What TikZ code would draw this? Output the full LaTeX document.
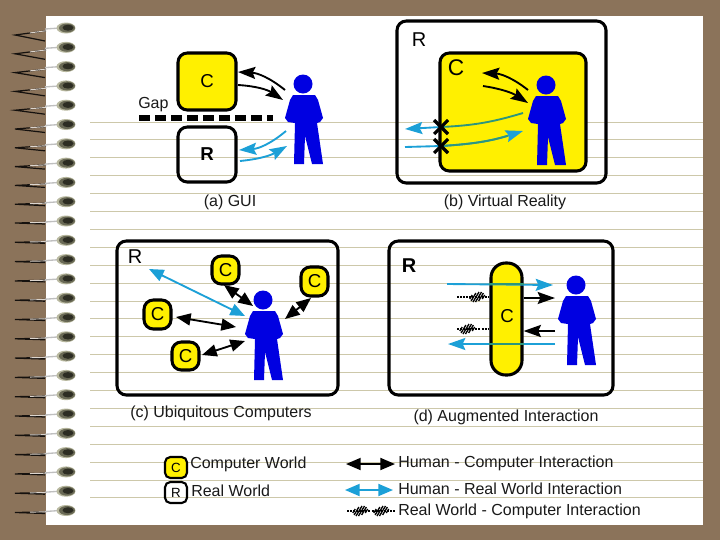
\documentclass[tikz,border=0pt]{standalone}
\usepackage{fontspec}
\setmainfont{Liberation Sans}
\usetikzlibrary{arrows.meta,calc}
\definecolor{brownbg}{RGB}{139,115,90}
\definecolor{ruled}{RGB}{205,200,170}
\definecolor{yel}{RGB}{255,240,0}
\definecolor{skyb}{RGB}{28,160,215}
\definecolor{teal2}{RGB}{45,150,125}
\definecolor{humanb}{RGB}{0,0,225}
\definecolor{inkk}{RGB}{25,25,25}
\definecolor{ringa}{RGB}{185,185,160}
\definecolor{ringb}{RGB}{105,105,85}
\definecolor{ringc}{RGB}{45,45,35}
\tikzset{
  bbox/.style={draw=black,line width=2.3pt,rounded corners=7pt,inner sep=0pt,font=\fontsize{14}{14}\selectfont},
  cbox/.style={bbox,fill=yel},
  rbox/.style={bbox},
  lab/.style={inner sep=0pt,text=inkk,font=\fontsize{12}{12}\selectfont},
  captxt/.style={inner sep=0pt,text=inkk,font=\fontsize{12}{12}\selectfont},
  bigl/.style={inner sep=0pt,text=black,font=\fontsize{15}{15}\selectfont},
  black arrow/.style={draw=black,line width=1.4pt,-{Stealth[length=13pt,width=9pt,inset=2pt]}},
  black both/.style={draw=black,line width=1.4pt,{Stealth[length=11pt,width=9pt,inset=0pt]}-{Stealth[length=11pt,width=9pt,inset=0pt]}},
  blue arrow/.style={draw=skyb,line width=1.4pt,-{Stealth[length=13pt,width=9pt,inset=2pt]}},
  blue both/.style={draw=skyb,line width=1.4pt,{Stealth[length=11pt,width=9pt,inset=0pt]}-{Stealth[length=11pt,width=9pt,inset=0pt]}},
  teal shaft/.style={draw=teal2,line width=1.4pt},
  hatch shaft/.style={draw=black,line width=1pt,dash pattern=on 1.5pt off .8pt},
  xmark/.style={draw=black,line width=2.4pt},
  person/.pic={
    \fill[humanb] (0,0) circle (9.5);
    \fill[humanb] (-10,11)--(12,11)--(15,16)--(20,34)--(17,38)--(14,39)--(20,80)--(9,80)--(2,52)--(1,80)--(-9,80)--(-8,39)--(-15,38)--(-18,34)--(-13,16)--cycle;
  },
  blob/.pic={
    \foreach \d/\h in {-7/2,-4.5/4,-2/5,.5/5,3/4,5.5/2}
      \draw[black,line width=1pt] ({\d-\h*.6},\h) -- ({\d+\h*.6},-\h);
  },
}
\newcommand\bx[7]{\pgfmathsetmacro\cxx{(#3+#5)/2}\pgfmathsetmacro\cyy{(#4+#6)/2}%
  \node[#2,minimum width={(#5-#3)*.75pt},minimum height={(#6-#4)*.75pt}] (#1) at (\cxx,\cyy) {#7};}
\begin{document}
\begin{tikzpicture}[x=.75pt,y=-.75pt]
\useasboundingbox (0,0) rectangle (720,540);
\fill[brownbg] (0,0) rectangle (720,540);
\fill[white] (46,16) rectangle (703,525);
% ruled lines
\foreach \k in {0,...,21}
  \draw[ruled,line width=.7pt] (90,{122+17.9*\k}) -- (703,{122+17.9*\k});
% spiral binding
\foreach \k in {0,...,25}{
  \pgfmathsetmacro\yy{28+19.3*\k}
  \pgfmathsetmacro\sp{max(1,6-.5*\k)}
  \draw[black!85!brownbg,line width=.9pt] (46,{\yy+\sp*.3+1}) -- (15,{\yy+\sp+1}) -- (45,{\yy+2*\sp+1});
  \draw[white!70!brownbg,line width=.7pt] (30,{\yy+.65*\sp+1}) -- (46,{\yy+\sp*.3+1});
  \draw[gray!50,line width=1pt] (45,{\yy+1}) -- (60,\yy);
  \fill[ringa] (66,\yy) ellipse (9.5 and 5.5);
  \fill[ringb] (67,\yy) ellipse (8 and 4.5);
  \fill[ringc] (68,{\yy-.3}) ellipse (5.5 and 3);
}
% (a) GUI
\bx{aC}{cbox}{178}{53}{236}{110}{C}
\bx{aR}{rbox}{178}{127}{236}{182}{\textbf{R}}
\node[lab,anchor=west] (gapl) at (138,105) {Gap};
\coordinate (gapa) at (139,118);
\coordinate (gapb) at (273,118);
\draw[black,line width=4pt,dash pattern=on 8pt off 4pt] (gapa) -- (gapb);
\pic (pa) at (303,84) {person};
\coordinate (ah) at (285,90);
\coordinate (ah2) at (283,100);
\coordinate (ab1) at (286,131);
\coordinate (ab2) at (287,146);
\coordinate (aCa) at (238,72);
\coordinate (aCb) at (238,85);
\draw[black arrow] (ah) to[bend right=18] (aCa);
\draw[black arrow] (aCb) to[bend left=15] (ah2);
\coordinate (arl) at (239,150);
\coordinate (arl2) at (240,161);
\draw[blue arrow] (ab1) to[bend left=18] (arl);
\draw[blue arrow] (arl2) to[bend right=12] (ab2);
\node[captxt] (capa) at (230,202) {(a) GUI};
% (b) VR
\bx{bR}{rbox}{397}{21}{606}{183}{}
\bx{bC}{cbox}{440}{53}{586}{171}{}
\node[bigl] (bRl) at (419,40) {R};
\node[bigl,font=\fontsize{17}{17}\selectfont] (bCl) at (456,68) {C};
\pic (pb) at (546,85) {person};
\coordinate (bb1) at (528,90);
\coordinate (bb2) at (482,73);
\coordinate (bb3) at (483,86);
\coordinate (bb4) at (528,103);
\draw[black arrow] (bb1) to[bend right=18] (bb2);
\draw[black arrow] (bb3) to[bend left=12] (bb4);
\coordinate (bl1) at (523,113);
\coordinate (bl2) at (441,127);
\coordinate (bl3) at (405,129);
\coordinate (bl4) at (405,147);
\coordinate (bl5) at (441,146);
\coordinate (bl6) at (523,131);
\draw[blue arrow] (bl2) -- (bl3);
\draw[skyb,line width=1.4pt] (bl4) -- (bl5);
\draw[blue arrow] (bl5) to[bend right=7] (bl6);
\draw[teal shaft,shorten >=12pt] (bl5) to[bend right=7] (bl6);
\draw[teal shaft] (bl1) to[bend left=7] (bl2);
\coordinate (x1a) at (434,120); \coordinate (x1b) at (448,134);
\coordinate (x1c) at (448,120); \coordinate (x1d) at (434,134);
\coordinate (x2a) at (434,139); \coordinate (x2b) at (448,153);
\coordinate (x2c) at (448,139); \coordinate (x2d) at (434,153);
\draw[xmark] (x1a) -- (x1b); \draw[xmark] (x1c) -- (x1d);
\draw[xmark] (x2a) -- (x2b); \draw[xmark] (x2c) -- (x2d);
\node[captxt] (capb) at (505,202) {(b) Virtual Reality};
% (c) Ubiquitous
\bx{cR}{rbox}{117}{241}{338}{395}{}
\node[bigl] (cRl) at (135,257) {R};
\bx{c1}{cbox}{212}{256}{239}{284}{C}
\bx{c2}{cbox}{301}{267}{328}{296}{C}
\bx{c3}{cbox}{144}{300}{171}{329}{C}
\bx{c4}{cbox}{172}{342}{199}{370}{C}
\pic (pc) at (263,300) {person};
\coordinate (cbs) at (149,269);
\coordinate (cbe) at (245,316);
\coordinate (c1e) at (253,306);
\coordinate (c2e) at (285,319);
\coordinate (c3e) at (236,327);
\coordinate (c4e) at (245,341);
\coordinate (c1s) at (224,285);
\coordinate (c2s) at (311,298);
\coordinate (c3s) at (176,317);
\coordinate (c4s) at (202,355);
\draw[blue both] (cbs) -- (cbe);
\draw[black both] (c1s) -- (c1e);
\draw[black both] (c2s) -- (c2e);
\draw[black both] (c3s) -- (c3e);
\draw[black both] (c4s) -- (c4e);
\node[captxt] (capc) at (221,413) {(c) Ubiquitous Computers};
% (d) Augmented
\bx{dR}{rbox}{389}{241}{613}{395}{}
\node[bigl] (dRl) at (409,266) {\textbf{R}};
\node[cbox,rounded corners=11pt,minimum width=23.25pt,minimum height=84pt] (dC) at (506.5,319) {};
\node[inner sep=0pt,text=black,font=\fontsize{14}{14}\selectfont] (dCl) at (507,316) {C};
\pic (pd) at (576,285) {person};
\coordinate (d1s) at (447,284);
\coordinate (d1e) at (553,285);
\coordinate (d2e) at (555,298);
\coordinate (d3s) at (457,297);
\coordinate (d4s) at (457,329);
\coordinate (d5s) at (555,331);
\coordinate (d6s) at (555,344);
\coordinate (d6e) at (448,344);
\draw[blue arrow] (d1s) -- (d1e);
\draw[teal shaft] (dC.west |- d1s) -- (dC.east |- d1s);
\draw[black arrow] (dC.east |- d2e) -- (d2e);
\draw[hatch shaft] (d3s) -- (dC.west |- d3s);
\pic at (478,297) {blob};
\draw[hatch shaft] (d4s) -- (dC.west |- d4s);
\pic at (468,329) {blob};
\draw[black arrow,line width=2pt] (d5s) -- (dC.east |- d5s);
\draw[blue arrow] (d6s) -- (d6e);
\draw[teal shaft] (dC.west |- d6s) -- (dC.east |- d6s);
\node[captxt] (capd) at (506,417) {(d) Augmented Interaction};
% legend
\bx{lC}{cbox,line width=1.6pt,rounded corners=4pt,font=\fontsize{10}{10}\selectfont}{165}{457}{187}{478}{C}
\bx{lR}{rbox,line width=1.6pt,rounded corners=4pt,font=\fontsize{10}{10}\selectfont}{165}{482}{187}{503}{R}
\node[lab,anchor=west] (lt1) at (190,464) {Computer World};
\node[lab,anchor=west] (lt2) at (191,491) {Real World};
\node[lab,anchor=west] (lt3) at (398,463) {Human - Computer Interaction};
\node[lab,anchor=west] (lt4) at (398,489) {Human - Real World Interaction};
\node[lab,anchor=west] (lt5) at (398,511) {Real World - Computer Interaction};
\coordinate (la1) at (346,464); \coordinate (la2) at (395,464);
\coordinate (lb1) at (345,490); \coordinate (lb2) at (393,490);
\coordinate (lc1) at (347,511); \coordinate (lc2) at (395,511);
\draw[black both] (la1) -- (la2);
\draw[blue both] (lb1) -- (lb2);
\draw[hatch shaft] (lc1) -- (lc2);
\pic at (361,511) {blob};
\pic at (382,511) {blob};
\end{tikzpicture}
\end{document}
